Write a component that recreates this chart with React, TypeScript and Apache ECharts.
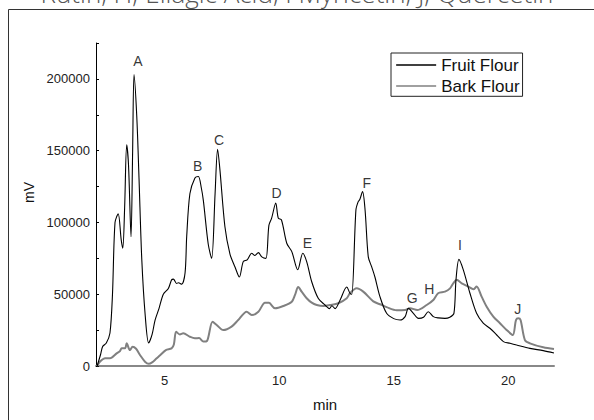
import React, { useEffect, useRef } from "react";
import * as echarts from "echarts";

const titleText = "Rutin, H; Ellagic Acid, I Myricetin, J; Quercetin";

const fruitTimes = [
  2.05, 2.2, 2.29, 2.45, 2.61, 2.72, 2.83, 2.97, 3.1, 3.17, 3.25, 3.34, 3.42, 3.53, 3.6, 3.66, 3.78, 3.88,
  4.0, 4.15, 4.3, 4.45, 4.58, 4.75, 4.94, 5.16, 5.3, 5.38, 5.52, 5.6, 5.74, 5.89, 5.96, 6.1, 6.32, 6.47,
  6.6, 6.69, 6.9, 7.05, 7.2, 7.31, 7.41, 7.63, 7.85, 8.07, 8.26, 8.43, 8.6, 8.8, 8.94, 9.09, 9.24, 9.42,
  9.55, 9.67, 9.85, 9.96, 10.1, 10.33, 10.55, 10.81, 11.03, 11.2, 11.42, 11.71, 12.0, 12.2, 12.3, 12.44,
  12.66, 12.95, 13.09, 13.17, 13.35, 13.45, 13.52, 13.64, 13.75, 13.89, 14.04, 14.18, 14.4, 14.69, 15.0,
  15.28, 15.5, 15.64, 15.86, 16.08, 16.3, 16.51, 16.73, 16.95, 17.24, 17.45, 17.63, 17.72, 17.85, 18.04,
  18.33, 18.62, 18.91, 19.2, 19.5, 19.79, 20.08, 20.37, 20.95, 21.53, 22.0,
];
const fruitValues = [
  0, 8000, 13500, 16000, 23000, 50000, 100000, 106000, 88000, 82000, 110000, 154000, 140000, 90000, 150000,
  203000, 174000, 130000, 74000, 35000, 16000, 22000, 32000, 40000, 50000, 54000, 60000, 60500, 57500,
  58000, 57000, 65000, 90000, 120000, 131000, 132000, 124000, 115000, 85000, 75000, 120000, 151000, 137000,
  97000, 78000, 69000, 62000, 72700, 74000, 78500, 77000, 79000, 76000, 75000, 98000, 103000, 113500,
  103000, 101700, 85500, 79700, 67000, 78500, 72700, 58700, 47000, 42500, 40000, 42000, 40000, 46000,
  55000, 50700, 50000, 108700, 114500, 116000, 121500, 108700, 76000, 69000, 62000, 48300, 36700, 33000,
  32000, 34400, 40200, 36700, 33200, 34000, 37800, 34400, 33500, 33200, 34000, 36700, 60000, 74300, 67000,
  50700, 36700, 29800, 26300, 21600, 17000, 15800, 14600, 12300, 10700, 9000,
];

const barkTimes = [
  2.05, 2.17, 2.4, 2.61, 2.9, 3.05, 3.12, 3.27, 3.34, 3.48, 3.6, 3.75, 3.92, 4.14, 4.3, 4.45, 4.65, 4.8,
  5.05, 5.3, 5.4, 5.5, 5.66, 5.81, 6.1, 6.32, 6.5, 6.69, 6.85, 7.09, 7.27, 7.56, 7.92, 8.21, 8.58, 8.8,
  9.09, 9.38, 9.55, 9.82, 10.18, 10.55, 10.69, 10.83, 10.98, 11.2, 11.42, 11.64, 11.93, 12.22, 12.58,
  12.95, 13.09, 13.38, 13.67, 14.11, 14.4, 14.69, 15.13, 15.5, 15.71, 16.03, 16.44, 16.73, 16.94, 17.24,
  17.46, 17.6, 17.75, 17.97, 18.26, 18.48, 18.62, 18.84, 19.06, 19.35, 19.64, 19.93, 20.2, 20.34, 20.44,
  20.54, 20.73, 20.95, 21.53, 22.0,
];
const barkValues = [
  0, 3000, 5400, 5400, 8800, 10500, 12300, 12300, 15800, 11100, 13400, 12000, 7700, 3000, 1500, 2500, 5400,
  7500, 11100, 12300, 15000, 23900, 22000, 22800, 20400, 19300, 19500, 17000, 17500, 30900, 28600, 25000,
  27400, 32000, 37800, 35500, 37800, 44100, 44000, 40200, 41800, 44800, 49500, 55000, 51800, 47200, 44100,
  42500, 41800, 42500, 43700, 47200, 50700, 54100, 51800, 45000, 43000, 41000, 38800, 39000, 40200, 39000,
  42500, 46000, 50700, 51800, 54100, 57600, 60000, 57600, 55300, 53400, 55300, 48300, 41300, 34400, 29800,
  25100, 21600, 32000, 33200, 32000, 18100, 15800, 13000, 11800,
];

const peakLetters = ["A", "B", "C", "D", "E", "F", "G", "H", "I", "J"];
const peakTimes = [3.83, 6.44, 7.37, 9.89, 11.23, 13.82, 15.81, 16.55, 17.89, 20.42];
const peakLabelValues = [212600, 139400, 157500, 120300, 85900, 127800, 47200, 53400, 84300, 39700];

const xTickLabels = [5, 10, 15, 20];
const yLabelStep = 50000;

const seriesNames = ["Fruit Flour", "Bark Flour"];
const FONT = "Liberation Sans, Arial, Helvetica, sans-serif";

export default function App() {
  const ref = useRef<HTMLDivElement>(null);
  useEffect(() => {
    if (!ref.current) return;
    const chart = echarts.init(ref.current, undefined, { renderer: "svg" });
    const fruitData = fruitTimes.map((t, i) => [t, fruitValues[i]]);
    const barkData = barkTimes.map((t, i) => [t, barkValues[i]]);
    const peakData = peakLetters.map((n, i) => ({ name: n, value: [peakTimes[i], peakLabelValues[i]] }));
    chart.setOption({
      animation: false,
      backgroundColor: "#fff",
      title: {
        text: titleText,
        left: "center",
        top: -25,
        textStyle: { fontFamily: "Open Sans", fontSize: 26, fontWeight: 300, color: "#555" },
      },
      graphic: [
        {
          type: "rect",
          shape: { x: 8.5, y: 9.5, width: 800, height: 600 },
          style: { fill: "none", stroke: "#333", lineWidth: 1 },
          silent: true,
          z: -1,
        },
      ],
      legend: {
        data: seriesNames,
        orient: "vertical",
        left: 391,
        top: 53,
        padding: [3.5, 3, 1.8, 4.5],
        itemGap: 4,
        itemWidth: 40,
        itemHeight: 14,
        borderColor: "#222",
        borderWidth: 1,
        backgroundColor: "#fff",
        itemStyle: { opacity: 0 },
        lineStyle: { width: 1.3 },
        textStyle: { fontFamily: FONT, fontSize: 17, color: "#111", lineHeight: 17 },
      },
      grid: { left: 96, right: 40, top: 43, bottom: 54 },
      xAxis: {
        type: "value",
        min: 2,
        max: 22,
        name: "min",
        nameLocation: "middle",
        nameGap: 31,
        nameTextStyle: { fontFamily: FONT, fontSize: 15, color: "#111" },
        axisLine: { show: true, lineStyle: { color: "#888", width: 2 } },
        axisTick: { show: false },
        splitLine: { show: false },
        axisLabel: { customValues: xTickLabels, fontFamily: FONT, fontSize: 13, color: "#222", margin: 8 },
      },
      yAxis: {
        type: "value",
        min: 0,
        max: 225000,
        interval: 25000,
        name: "mV",
        nameLocation: "middle",
        nameGap: 48,
        nameTextStyle: { fontFamily: FONT, fontSize: 14, color: "#111", padding: [0, 0, 0, 24] },
        axisLine: { show: true, lineStyle: { color: "#000", width: 1 } },
        axisTick: { show: true, inside: true, length: 3, lineStyle: { color: "#000" } },
        splitLine: { show: false },
        axisLabel: {
          fontFamily: FONT,
          fontSize: 13,
          color: "#222",
          margin: 6,
          formatter: (v: number) => (v % yLabelStep === 0 ? String(v) : ""),
        },
      },
      series: [
        {
          name: seriesNames[0],
          type: "line",
          data: fruitData,
          symbol: "none",
          showSymbol: false,
          smooth: 0.3,
          lineStyle: { color: "#000", width: 1.1 },
          itemStyle: { color: "#000" },
          z: 3,
        },
        {
          name: seriesNames[1],
          type: "line",
          data: barkData,
          symbol: "none",
          showSymbol: false,
          smooth: 0.3,
          lineStyle: { color: "#808080", width: 2 },
          itemStyle: { color: "#808080" },
          z: 2,
        },
        {
          name: "peaks",
          type: "scatter",
          data: peakData,
          symbolSize: 1,
          itemStyle: { color: "rgba(0,0,0,0)" },
          silent: true,
          label: {
            show: true,
            position: "inside",
            formatter: "{b}",
            fontFamily: FONT,
            fontSize: 14,
            color: "#000",
          },
          z: 4,
        },
      ],
    });
    return () => chart.dispose();
  }, []);
  return <div ref={ref} style={{ position: "absolute", left: 0, top: 0, width: 594, height: 420 }} />;
}
